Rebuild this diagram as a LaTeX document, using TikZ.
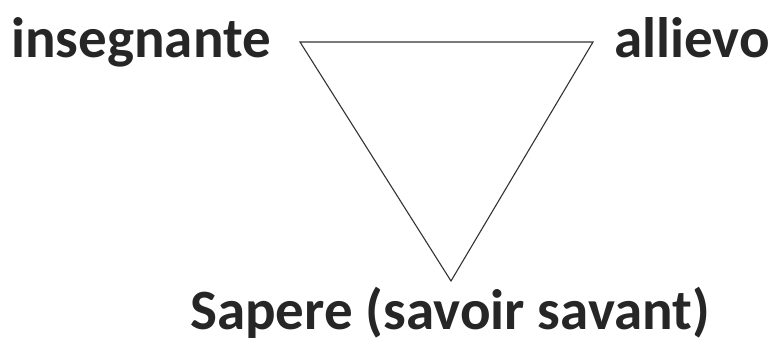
\documentclass[tikz,border=0pt]{standalone}
\usepackage{fontspec}
\setmainfont{Carlito}
\begin{document}
\begin{tikzpicture}[x=1pt,y=-1pt,
  lbl/.style={font=\fontsize{57}{66}\selectfont\bfseries, text=black!85, inner sep=0pt, anchor=base},
  edge/.style={draw=black!80, line width=1.1pt}]
\useasboundingbox (0,0) rectangle (776,340);
\coordinate (tl) at (300,42);
\coordinate (tr) at (593,42);
\coordinate (bt) at (451,281);
\draw[edge, line join=miter] (tl) -- (tr) -- (bt) -- cycle;
\node[lbl, anchor=base west] (ins) at (11,57) {insegnante};
\node[lbl, anchor=base west] (all) at (614,57) {allievo};
\node[lbl] (sap) at (450,329) {Sapere (savoir savant)};
\end{tikzpicture}
\end{document}
